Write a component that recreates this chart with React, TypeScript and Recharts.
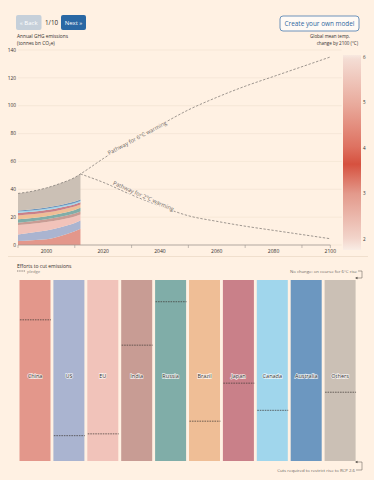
import React from 'react';
import {
  ComposedChart,
  BarChart,
  Area,
  Line,
  Bar,
  Cell,
  Scatter,
  XAxis,
  YAxis,
  CartesianGrid,
  ReferenceLine,
  ReferenceDot,
} from 'recharts';

const BG = '#fff1e3';
const FONT = '"Open Sans", "Noto Sans", sans-serif';
const INK = '#33302e';
const MUTED = '#6e6863';

// historic emissions by region, tonnes bn CO2e
const historyYears = [1990, 1995, 2000, 2005, 2010, 2012];
const chinaHist = [2.8, 3.4, 4.1, 6.5, 9.8, 11.6];
const usHist = [4.8, 5.6, 6.4, 6.3, 6.0, 6.0];
const euHist = [6.7, 6.2, 6.0, 5.4, 4.7, 4.3];
const indiaHist = [1.7, 1.8, 1.9, 2.0, 2.1, 2.1];
const russiaHist = [2.4, 2.3, 2.3, 2.5, 2.6, 2.7];
const brazilHist = [2.8, 2.7, 2.6, 2.5, 2.4, 2.3];
const japanHist = [1.8, 1.8, 1.8, 1.8, 1.7, 1.7];
const canadaHist = [1.0, 1.0, 1.0, 0.9, 0.9, 0.9];
const australiaHist = [0.8, 0.8, 0.9, 0.9, 1.0, 1.0];
const othersHist = [12.2, 13.0, 14.0, 15.5, 17.3, 18.4];

// projected pathways
const pathYears = [2012, 2020, 2030, 2040, 2050, 2060, 2070, 2080, 2090, 2100];
const path6C = [51, 62, 75, 86, 97, 106, 114, 121, 128, 135];
const path2C = [51, 45, 36, 28, 21, 17, 13.5, 10.5, 7.5, 4.5];

const countries = ['China', 'US', 'EU', 'India', 'Russia', 'Brazil', 'Japan', 'Canada', 'Australia', 'Others'];
const countryColors = [
  '#e3978b', '#aab4d0', '#f1c3ba', '#c89c94', '#80ada8',
  '#efbe96', '#c98089', '#a0d6ec', '#6c97c0', '#cbc0b5',
];
const countryHist = [
  chinaHist, usHist, euHist, indiaHist, russiaHist,
  brazilHist, japanHist, canadaHist, australiaHist, othersHist,
];

// share of required cut (0 = no change, 100 = RCP 2.6)
const fullCut = [100, 100, 100, 100, 100, 100, 100, 100, 100, 100];
const pledgeCut = [22, 86, 85, 36, 12, 78, 57, 72, null, 62];

const yTicks = [0, 20, 40, 60, 80, 100, 120, 140];
const xTicks = [1990, 2000, 2010, 2020, 2030, 2040, 2050, 2060, 2070, 2080, 2090, 2100];
const tempTicks = [2, 3, 4, 5, 6];
const tempRange = [1.76, 6.05];

const allYears = Array.from(new Set([...historyYears, ...pathYears])).sort((a, b) => a - b);
const topData = allYears.map((year) => {
  const row: Record<string, number | null> = { year };
  const hi = historyYears.indexOf(year);
  const pi = pathYears.indexOf(year);
  let total = 0;
  countries.forEach((c, i) => {
    const v = hi >= 0 ? countryHist[i][hi] : null;
    row[c] = v;
    if (v != null) total += v;
  });
  row.path6 = pi >= 0 ? path6C[pi] : hi >= 0 ? total : null;
  row.path2 = pi >= 0 ? path2C[pi] : null;
  return row;
});

const effortData = countries.map((name, i) => ({ name, full: fullCut[i], pledge: pledgeCut[i] }));
const tempData = [{ name: 'temp', range: tempRange }];

const YearTick = (props: any) => {
  const { x, y, payload } = props;
  const v = payload.value;
  const labelled = v % 20 === 0;
  const marked = !labelled || v === 2100;
  return (
    <g>
      {marked && <line x1={x} x2={x} y1={y} y2={y + 3} stroke="#9a948e" strokeWidth={0.6} />}
      {labelled && (
        <text x={x} y={y + 8} textAnchor="middle" fontSize={5} fill={INK} fontFamily={FONT}>
          {v}
        </text>
      )}
    </g>
  );
};

const pathLabel = (text: string, angle: number) => (p: any) => (
  <text
    x={p.cx}
    y={p.cy}
    transform={`rotate(${angle} ${p.cx} ${p.cy})`}
    textAnchor="middle"
    dominantBaseline="central"
    fontSize={5.6}
    fill={MUTED}
    fontFamily={FONT}
    stroke={BG}
    strokeWidth={2}
    paintOrder="stroke"
  >
    {text}
  </text>
);

// bar block with the country name a little below its middle
// (the y axis is reversed, so the height arrives negative)
const CountryBar = (props: any) => {
  const { x, y, width, height, fill, payload } = props;
  const top = Math.min(y, y + height);
  const h = Math.abs(height);
  return (
    <g>
      <rect x={x} y={top} width={width} height={h} fill={fill} />
      <text
        x={x + width / 2}
        y={top + h * 0.53}
        textAnchor="middle"
        dominantBaseline="central"
        fontSize={5.5}
        fill={INK}
        fontFamily={FONT}
        stroke="#ffffff"
        strokeWidth={1.4}
        strokeOpacity={0.8}
        paintOrder="stroke"
      >
        {payload?.name}
      </text>
    </g>
  );
};

const PledgeMark = (props: any) => {
  const { cx, cy, payload } = props;
  if (payload?.pledge == null || !Number.isFinite(cy)) return null;
  return <line x1={cx - 15.5} x2={cx + 15.5} y1={cy} y2={cy} stroke="#3d3834" strokeWidth={0.7} strokeDasharray="1.6 0.9" />;
};

const Txt = ({ x, y, size, color = INK, anchor = 'start', weight = 400, children }: any) => (
  <text x={x} y={y} fontSize={size} fill={color} textAnchor={anchor} dominantBaseline="central" fontFamily={FONT} fontWeight={weight}>
    {children}
  </text>
);

export default function App() {
  return (
    <div style={{ position: 'absolute', left: 0, top: 0, width: 374, height: 480, background: BG, overflow: 'hidden', fontFamily: FONT }}>
      <svg width={0} height={0} style={{ position: 'absolute' }}>
        <defs>
          <linearGradient id="tempGrad" x1="0" y1="0" x2="0" y2="1">
            <stop offset="0" stopColor="#f8e9e0" />
            <stop offset="0.02" stopColor="#f4ddd4" />
            <stop offset="0.25" stopColor="#e9ab9d" />
            <stop offset="0.47" stopColor="#de7261" />
            <stop offset="0.56" stopColor="#d6513f" />
            <stop offset="0.71" stopColor="#e3998b" />
            <stop offset="0.94" stopColor="#f2d4ca" />
            <stop offset="1" stopColor="#f9ede5" />
          </linearGradient>
        </defs>
      </svg>

      <div style={{ position: 'absolute', left: 0, top: 0 }}>
        <ComposedChart width={374} height={260} data={topData} margin={{ top: 50, right: 32.3, bottom: 0, left: 0 }}>
          <CartesianGrid vertical={false} stroke="#f0e1d0" strokeWidth={0.6} />
          <XAxis
            dataKey="year"
            type="number"
            domain={[1990, 2104]}
            ticks={xTicks}
            height={15}
            axisLine={false}
            tickLine={false}
            tickSize={0}
            tickMargin={0}
            tick={<YearTick />}
            interval={0}
          />
          <YAxis
            domain={[0, 140]}
            ticks={yTicks}
            width={18}
            axisLine={false}
            tickLine={false}
            tickSize={0}
            tickMargin={2}
            tick={{ fontSize: 4.8, fill: INK, fontFamily: FONT }}
          />
          {countries.map((c, i) => (
            <Area
              key={c}
              dataKey={c}
              stackId="hist"
              type="monotone"
              fill={countryColors[i]}
              fillOpacity={1}
              stroke="none"
              isAnimationActive={false}
            />
          ))}
          <ReferenceLine
            segment={[{ x: 1990, y: 0 }, { x: 2100, y: 0 }]}
            stroke="#9a948e"
            strokeWidth={0.7}
          />
          <Line dataKey="path6" type="monotone" stroke="#857f7a" strokeWidth={0.8} strokeDasharray="2.4 1.6" dot={false} isAnimationActive={false} />
          <Line dataKey="path2" type="monotone" stroke="#857f7a" strokeWidth={0.8} strokeDasharray="2.4 1.6" dot={false} isAnimationActive={false} />
          <ReferenceDot x={2032} y={77} r={0} shape={pathLabel('Pathway for 6°C warming', -28)} />
          <ReferenceDot x={2034.2} y={35.2} r={0} shape={pathLabel('Pathway for 2°C warming', 24)} />
        </ComposedChart>
      </div>

      <div style={{ position: 'absolute', left: 340, top: 55 }}>
        <BarChart width={34} height={195} data={tempData} margin={{ top: 0, right: 1, bottom: 0, left: 3 }} barCategoryGap={0}>
          <XAxis dataKey="name" hide />
          <YAxis
            orientation="right"
            domain={tempRange}
            ticks={tempTicks}
            width={12}
            axisLine={false}
            tickLine={false}
            tickSize={0}
            tickMargin={2}
            tick={{ fontSize: 4.6, fill: INK, fontFamily: FONT, textAnchor: 'start' }}
          />
          <Bar dataKey="range" fill="url(#tempGrad)" isAnimationActive={false} />
        </BarChart>
      </div>

      <div style={{ position: 'absolute', left: 0, top: 280 }}>
        <ComposedChart width={374} height={181} data={effortData} margin={{ top: 0, right: 16.5, bottom: 0, left: 18.5 }}>
          <XAxis dataKey="name" type="category" hide />
          <YAxis domain={[0, 100]} reversed hide />
          <Bar dataKey="full" barSize={31} shape={<CountryBar />} isAnimationActive={false}>
            {countries.map((c, i) => (
              <Cell key={c} fill={countryColors[i]} />
            ))}
          </Bar>
          <Scatter dataKey="pledge" shape={<PledgeMark />} isAnimationActive={false} />
        </ComposedChart>
      </div>

      <svg width={374} height={480} style={{ position: 'absolute', left: 0, top: 0, pointerEvents: 'none' }}>
        <rect x={16} y={15} width={25.5} height={15} rx={2} fill="#c6d0da" />
        <Txt x={28.7} y={22.7} size={6} color="#ffffff" anchor="middle">« Back</Txt>
        <Txt x={45} y={22.5} size={6.3} color="#2b2826">1/10</Txt>
        <rect x={61} y={15} width={25} height={15} rx={2} fill="#2a68a4" />
        <Txt x={73.5} y={22.7} size={6} color="#ffffff" anchor="middle">Next »</Txt>
        <rect x={280} y={16} width={79} height={15} rx={3} fill="#fffaf5" stroke="#5d89b5" strokeWidth={0.9} />
        <Txt x={319.5} y={23.5} size={6.4} color="#2c67a0" anchor="middle">Create your own model</Txt>

        <Txt x={17} y={35.5} size={4.8}>Annual GHG emissions</Txt>
        <Txt x={17} y={43} size={4.8}>(tonnes bn CO₂e)</Txt>
        <Txt x={350} y={35.5} size={4.5} anchor="end">Global mean temp.</Txt>
        <Txt x={358} y={43} size={4.5} anchor="end">change by 2100 (°C)</Txt>

        <line x1={8} x2={368} y1={256.5} y2={256.5} stroke="#ecdac8" strokeWidth={0.8} />
        <Txt x={17} y={265.5} size={5}>Efforts to cut emissions</Txt>
        <line x1={17} x2={25} y1={271} y2={271} stroke="#3d3834" strokeWidth={0.6} strokeDasharray="1.4 0.8" />
        <Txt x={27} y={271} size={4.2} color="#8b847e">pledge</Txt>

        <Txt x={357} y={271} size={4.3} color={MUTED} anchor="end">No change: on course for 6°C rise</Txt>
        <polyline points="358,271 362,271 362,278 356,278" fill="none" stroke="#55504b" strokeWidth={0.5} />
        <polygon points="355,278 357.5,276.8 357.5,279.2" fill="#55504b" />

        <Txt x={355} y={470} size={4.3} color={MUTED} anchor="end">Cuts required to restrict rise to RCP 2.6</Txt>
        <polyline points="356,470 362,470 362,462 356,462" fill="none" stroke="#55504b" strokeWidth={0.5} />
        <polygon points="355,462 357.5,460.8 357.5,463.2" fill="#55504b" />
      </svg>
    </div>
  );
}
